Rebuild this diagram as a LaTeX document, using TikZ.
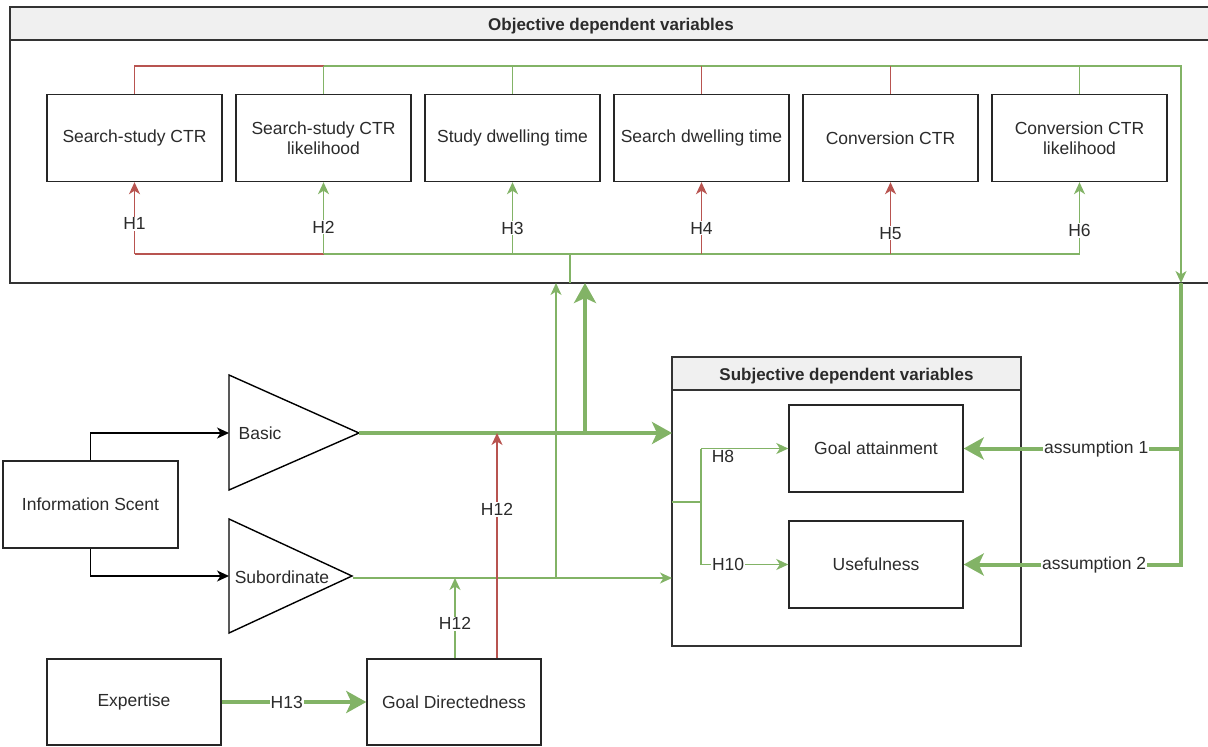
\documentclass[tikz,border=0pt]{standalone}
\usepackage{fontspec}
\setmainfont{Liberation Sans}
\usetikzlibrary{arrows.meta}
\definecolor{gl}{HTML}{82B366}
\definecolor{rl}{HTML}{B85450}
\definecolor{tx}{HTML}{2B2B2B}
\definecolor{hd}{HTML}{F0F0F0}
\begin{document}
\begin{tikzpicture}[x=1pt,y=-1pt,
  every node/.style={font=\fontsize{17.5}{20}\selectfont, text=tx},
  box/.style={draw=black!85, line width=1.4pt, minimum width=175pt, minimum height=87pt, align=center, inner sep=2pt},
  frame/.style={draw=black!80, line width=1.4pt},
  gthin/.style={draw=gl, line width=1.5pt},
  rthin/.style={draw=rl, line width=1.5pt},
  bthin/.style={draw=black, line width=1.4pt},
  gthick/.style={draw=gl, line width=4pt},
  tarr/.style={-{Stealth[length=12pt,width=11pt,inset=3.5pt]}},
  karr/.style={-{Stealth[length=20pt,width=22pt,inset=5pt]}},
  lab/.style={fill=white, inner sep=1pt},
  hdr/.style={font=\fontsize{17}{20}\selectfont\bfseries}
]
\useasboundingbox (0,0) rectangle (1208,747);

% ---------- Objective container ----------
\fill[hd] (10,7) rectangle (1212,40);
\draw[frame] (1212,7) -- (10,7) -- (10,283) -- (1212,283);
\draw[frame] (10,40) -- (1212,40);
\node[hdr] (objt) at (611,26) {Objective dependent variables};

\node[box] (b1) at (134.5,138) {Search-study CTR};
\node[box] (b2) at (323.5,138) {Search-study CTR\\likelihood};
\node[box] (b3) at (512.5,138) {Study dwelling time};
\node[box] (b4) at (701.5,138) {Search dwelling time};
\node[box] (b5) at (890.5,138) {Conversion CTR};
\node[box] (b6) at (1079.5,138) {Conversion CTR\\likelihood};

% top connectors
\coordinate (topA) at (323.5,66);
\coordinate (topE) at (1181,66);
\coordinate (objIn) at (1181,283);
\draw[rthin] (b1.north) |- (topA);
\draw[gthin] (b2.north) -- (topA);
\draw[gthin,tarr] (topA) -- (topE) -- (objIn);
\draw[gthin] (b3.north) -- (b3.north |- topA);
\draw[rthin] (b4.north) -- (b4.north |- topA);
\draw[rthin] (b5.north) -- (b5.north |- topA);
\draw[gthin] (b6.north) -- (b6.north |- topA);

% bottom connectors
\coordinate (botA) at (323.5,254);
\coordinate (botE) at (1079.5,254);
\coordinate (stemT) at (570,254);
\coordinate (stemB) at (570,283);
\draw[rthin] (botA) -- (b1.south |- botA);
\draw[gthin] (botA) -- (botE);
\draw[gthin] (stemT) -- (stemB);
\draw[rthin,tarr] (b1.south |- botA) -- (b1.south) node[lab,pos=0.42] (h1) {H1};
\draw[gthin,tarr] (b2.south |- botA) -- (b2.south) node[lab,pos=0.375] (h2) {H2};
\draw[gthin,tarr] (b3.south |- botA) -- (b3.south) node[lab,pos=0.36] (h3) {H3};
\draw[rthin,tarr] (b4.south |- botA) -- (b4.south) node[lab,pos=0.36] (h4) {H4};
\draw[rthin,tarr] (b5.south |- botA) -- (b5.south) node[lab,pos=0.29] (h5) {H5};
\draw[gthin,tarr] (b6.south |- botA) -- (b6.south) node[lab,pos=0.33] (h6) {H6};

% ---------- Subjective container ----------
\fill[hd] (672,357) rectangle (1021,390);
\draw[frame] (672,357) rectangle (1021,646);
\draw[frame] (672,390) -- (1021,390);
\node[hdr] (subt) at (846.5,376) {Subjective dependent variables};

\node[box,minimum width=174pt] (goal) at (876,448.5) {Goal attainment};
\node[box,minimum width=174pt] (use) at (876,564.5) {Usefulness};

\coordinate (sj) at (672,502);
\coordinate (sk) at (701,502);
\coordinate (sk1) at (701,448.5);
\coordinate (sk2) at (701,564.5);
\draw[gthin] (sj) -- (sk);
\draw[gthin] (sk1) -- (sk2);
\draw[gthin,tarr] (sk1) -- (goal.west);
\node[lab] (h8) at (723,456) {H8};
\draw[gthin,tarr] (sk2) -- (use.west) node[lab,pos=0.31] (h10) {H10};

% assumptions
\draw[gthick,karr] (objIn) |- (use.east) node[lab,pos=0.70] (as2) {assumption 2};
\draw[gthick,karr] (objIn |- goal.east) -- (goal.east) node[lab,pos=0.39] (as1) {assumption 1};

% ---------- Left side ----------
\node[box] (info) at (90.5,504.5) {Information Scent};
\node[box,minimum width=174pt,minimum height=86pt] (exp) at (134,702) {Expertise};
\node[box,minimum width=174pt,minimum height=86pt] (gd) at (454,702) {Goal Directedness};

\coordinate (basicIn) at (229,433);
\coordinate (basicTip) at (359,433);
\coordinate (subIn) at (229,576);
\coordinate (subTip) at (353,578);
\draw[bthin] (229,375) -- (basicTip) -- (229,490) -- cycle;
\draw[bthin] (229,519) -- (352,576) -- (229,633) -- cycle;
\node (basic) at (260,433) {Basic};
\node (sub) at (282,577) {Subordinate};

\draw[bthin,tarr] (info.north) |- (basicIn);
\draw[bthin,tarr] (info.south) |- (subIn);

\coordinate (subjIn1) at (672,433);
\coordinate (subjIn2) at (672,578);
\coordinate (thinUp) at (556,283);
\coordinate (thickUp) at (585,283);
\coordinate (jThin) at (556,578);
\coordinate (jThick) at (585,433);

\draw[gthin,tarr] (subTip) -- (subjIn2);
\draw[gthin,tarr] (jThin) -- (thinUp);
\draw[gthick,karr] (basicTip) -- (subjIn1);
\draw[gthick,karr] (jThick) -- (thickUp);

\draw[rthin,tarr] ([xshift=43pt]gd.north) -- ([xshift=43pt]gd.north |- basicTip) node[lab,pos=0.66] (h12a) {H12};
\draw[gthin,tarr] ([xshift=1pt]gd.north) -- ([xshift=1pt]gd.north |- subTip) node[lab,pos=0.43] (h12b) {H12};
\draw[gthick,karr] (exp.east) -- (gd.west) node[lab,pos=0.45] (h13) {H13};
\end{tikzpicture}
\end{document}
